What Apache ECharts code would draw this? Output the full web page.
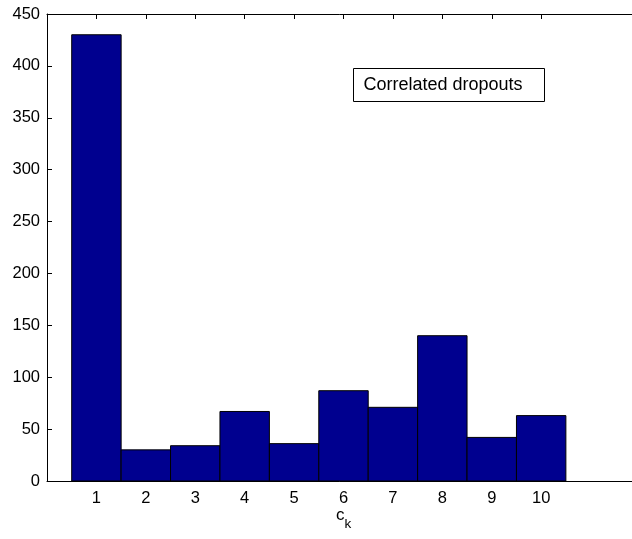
<!DOCTYPE html>
<html>
<head>
<meta charset="utf-8">
<script src="https://cdn.jsdelivr.net/npm/echarts@6/dist/echarts.min.js"></script>
<style>
  html, body { margin: 0; padding: 0; background: #fff; }
  #chart { width: 632px; height: 539px; }
</style>
</head>
<body>
<div id="chart"></div>
<script>
// Histogram of correlated dropout counts per bin c_k
const categories = [1, 2, 3, 4, 5, 6, 7, 8, 9, 10];
const counts = [430, 30, 34, 67, 36, 87, 71, 140, 42, 63];
const yTicks = [0, 50, 100, 150, 200, 250, 300, 350, 400, 450];
const legendText = 'Correlated dropouts';

const FONT = '"Liberation Sans", Arial, Helvetica, sans-serif';
const chart = echarts.init(document.getElementById('chart'), null, { renderer: 'canvas' });

const barData = categories.map((c, i) => [c, counts[i]]);

const axisLineStyle = { color: '#000', width: 1 };

chart.setOption({
  animation: false,
  backgroundColor: '#fff',
  grid: { left: 47, top: 14, right: -8, bottom: 58, containLabel: false, outerBoundsMode: 'none' },
  xAxis: [
    {
      type: 'value', min: 0, max: 12, position: 'bottom',
      axisLine: { show: true, onZero: false, lineStyle: axisLineStyle },
      axisTick: { show: true, inside: true, length: 5, customValues: categories, lineStyle: axisLineStyle },
      axisLabel: { customValues: categories, color: '#000', fontSize: 16.5, fontFamily: FONT, margin: 9 },
      splitLine: { show: false },
      name: '{c|c}{k|k}',
      nameLocation: 'middle',
      nameMoveOverlap: false,
      nameGap: 26,
      nameTextStyle: {
        rich: {
          c: { fontSize: 17, fontFamily: FONT, color: '#000', lineHeight: 18, verticalAlign: 'top' },
          k: { fontSize: 13.5, fontFamily: FONT, color: '#000', lineHeight: 18, verticalAlign: 'top', padding: [10, 0, 0, 0] }
        }
      }
    },
    {
      type: 'value', min: 0, max: 12, position: 'top',
      axisLine: { show: true, onZero: false, lineStyle: axisLineStyle },
      axisTick: { show: true, inside: true, length: 5, customValues: categories, lineStyle: axisLineStyle },
      axisLabel: { show: false },
      splitLine: { show: false }
    }
  ],
  yAxis: {
    type: 'value', min: 0, max: 450, interval: 50,
    axisLine: { show: true, onZero: false, lineStyle: axisLineStyle },
    axisTick: { show: true, inside: true, length: 5, lineStyle: axisLineStyle },
    axisLabel: { color: '#000', fontSize: 16.5, fontFamily: FONT, margin: 7,
      formatter: v => yTicks.includes(v) ? String(v) : '' },
    splitLine: { show: false }
  },
  series: [{
    type: 'custom',
    xAxisIndex: 0,
    data: barData,
    renderItem: function (params, api) {
      const x = api.value(0), y = api.value(1);
      const p0 = api.coord([x - 0.5, y]);
      const p1 = api.coord([x + 0.5, 0]);
      return {
        type: 'rect',
        shape: { x: p0[0], y: p0[1], width: p1[0] - p0[0], height: p1[1] - p0[1] },
        style: { fill: '#00008F', stroke: '#000', lineWidth: 1 }
      };
    },
    z: 1
  }],
  graphic: [{
    type: 'group', left: 353, top: 68,
    children: [
      { type: 'rect', shape: { x: 0, y: 0, width: 191, height: 33 },
        style: { fill: '#fff', stroke: '#000', lineWidth: 1 } },
      { type: 'text', x: 10, y: 17,
        style: { text: legendText, fill: '#000', font: '18px ' + FONT, verticalAlign: 'middle' } }
    ]
  }]
});
</script>
</body>
</html>
